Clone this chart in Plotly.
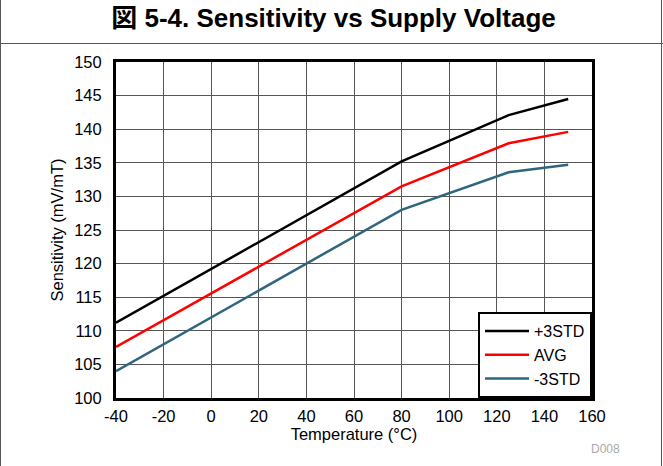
import plotly.graph_objects as go

temps = [-40, 25, 80, 125, 150]
plus3std = [111.2, 124.2, 135.2, 142.1, 144.5]
avg = [107.6, 120.5, 131.5, 137.9, 139.6]
minus3std = [104.0, 117.0, 128.0, 133.6, 134.7]

series_names = ["+3STD", "AVG", "-3STD"]
series_colors = ["#000000", "#ff0000", "#30667d"]

x_tick_vals = [-40, -20, 0, 20, 40, 60, 80, 100, 120, 140, 160]
x_tick_text = ["-40", "-20", "0", "20", "40", "60", "80", "100", "120", "140", "160"]

FONT = "Liberation Sans, Arial, Helvetica, sans-serif"

fig = go.Figure()
for name, vals, col in zip(series_names, [plus3std, avg, minus3std], series_colors):
    fig.add_trace(go.Scatter(x=temps, y=vals, mode="lines", name=name,
                             line=dict(color=col, width=2.5)))

W, H = 663, 466
L, R, T, B = 116, 71, 62, 68
pw, ph = W - L - R, H - T - B

def px(xp):
    return (xp - L) / pw

def py(yp):
    return (H - B - yp) / ph

fig.update_layout(
    width=W, height=H,
    margin=dict(l=L, r=R, t=T, b=B),
    paper_bgcolor="white", plot_bgcolor="white",
    font=dict(family=FONT, size=16.5, color="#000"),
    title=dict(text="<b>図 5-4. Sensitivity vs Supply Voltage</b>",
               font=dict(family="Liberation Sans, Arial, Noto Sans CJK JP", size=26, color="#000"),
               x=333.5 / W, xanchor="center", xref="container",
               y=1 - 18 / H, yanchor="middle", yref="container"),
    xaxis=dict(range=[-40, 160], tickvals=x_tick_vals, ticktext=x_tick_text,
               showgrid=True, gridcolor="#555", gridwidth=1, showline=True,
               linecolor="#000", linewidth=3, mirror=True, ticks="", zeroline=False,
               ticklabelstandoff=1,
               title=dict(text="Temperature (°C)", font=dict(size=16.5), standoff=5)),
    yaxis=dict(range=[100, 150], dtick=5, showgrid=True,
               gridcolor="#555", gridwidth=1, showline=True, linecolor="#000",
               linewidth=3, mirror=True, ticks="", zeroline=False,
               ticklabelstandoff=8,
               title=dict(text="Sensitivity (mV/mT)", font=dict(size=16.5), standoff=7)),
    legend=dict(x=1, xanchor="right", y=0, yanchor="bottom",
                bgcolor="white", bordercolor="#000", borderwidth=2,
                font=dict(size=16), tracegroupgap=0, itemwidth=44),
    showlegend=True,
)

frame = dict(type="line", xref="paper", yref="paper", line=dict(color="#555", width=1))
fig.add_shape(**frame, x0=px(0.5), x1=px(0.5), y0=py(0), y1=py(H))
fig.add_shape(**frame, x0=px(661.5), x1=px(661.5), y0=py(0), y1=py(H))
fig.add_shape(**frame, x0=px(0), x1=px(W), y0=py(43.5), y1=py(43.5))

fig.add_annotation(text="D008", xref="paper", yref="paper", x=px(605), y=py(449),
                   showarrow=False, font=dict(size=12, color="#aaaaaa"),
                   xanchor="center", yanchor="middle")

fig.write_html("out.html", config={"displayModeBar": False},
               post_script="document.body.style.margin='0';document.body.style.overflow='hidden';")
